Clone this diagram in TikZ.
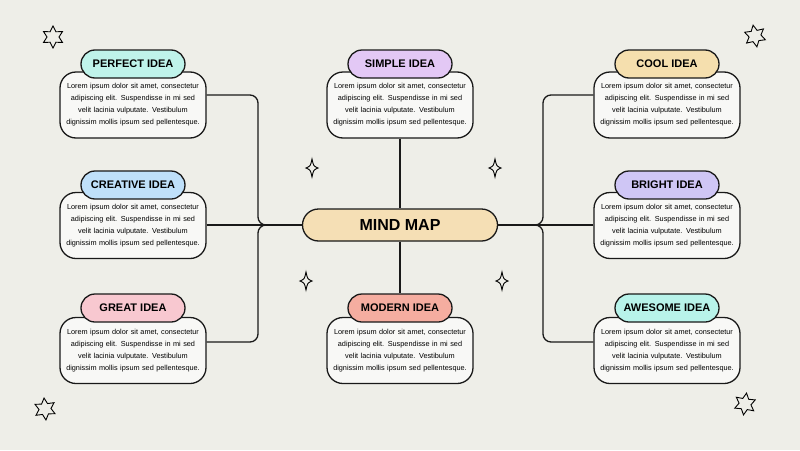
\documentclass[tikz,border=0pt]{standalone}
\usepackage{fontspec}
\setmainfont{Liberation Sans}
\begin{document}
\begin{tikzpicture}[x=1pt,y=-1pt,line width=1.3pt,
  box/.style={draw=black!90,fill=white!60!bgc,rounded corners=16pt,minimum width=146pt,minimum height=66pt,inner sep=0pt,
     font=\fontsize{7.3}{12}\selectfont,align=center,text width=146pt},
  lab/.style={draw=black!90,fill=#1,rounded corners=14pt,minimum width=104pt,minimum height=28pt,inner sep=0pt,font=\fontsize{11}{13}\selectfont\bfseries},
  conn/.style={draw=black!90,rounded corners=8pt},
  spark/.style={line width=0.9pt},
  starS/.style={line width=0.9pt}]
\definecolor{bgc}{HTML}{EEEEE8}
\definecolor{cperf}{HTML}{BFF3EA}
\definecolor{ccrea}{HTML}{BFE0FA}
\definecolor{cgrea}{HTML}{F8C8D0}
\definecolor{csimp}{HTML}{E3C8F5}
\definecolor{cmode}{HTML}{F5ADA0}
\definecolor{ccool}{HTML}{F5DFAE}
\definecolor{cbrig}{HTML}{CFC6F5}
\definecolor{cawes}{HTML}{B8F3EA}
\definecolor{ccent}{HTML}{F5DFB5}
\fill[bgc] (0,0) rectangle (800,450);
\useasboundingbox (0,0) rectangle (800,450);
\def\lorem{Lorem ipsum dolor sit amet, consectetur\\adipiscing elit. Suspendisse in mi sed\\velit lacinia vulputate. Vestibulum\\dignissim mollis ipsum sed pellentesque.}
% center
\node[draw=black!90,fill=ccent,rounded corners=16pt,minimum width=195pt,minimum height=32pt,font=\fontsize{16}{18}\selectfont\bfseries] (c) at (400,225) {MIND MAP};
% boxes
\node[box] (b1) at (133,105) {\lorem};
\node[box] (b2) at (133,225.5) {\lorem};
\node[box] (b3) at (133,350.5) {\lorem};
\node[box] (b4) at (400,105) {\lorem};
\node[box] (b5) at (400,350.5) {\lorem};
\node[box] (b6) at (667,105) {\lorem};
\node[box] (b7) at (667,225.5) {\lorem};
\node[box] (b8) at (667,350.5) {\lorem};
\node[lab=cperf] (l1) at (133,64) {PERFECT IDEA};
\node[lab=ccrea] (l2) at (133,185) {CREATIVE IDEA};
\node[lab=cgrea] (l3) at (133,308) {GREAT IDEA};
\node[lab=csimp] (l4) at (400,64) {SIMPLE IDEA};
\node[lab=cmode] (l5) at (400,308) {MODERN IDEA};
\node[lab=ccool] (l6) at (667,64) {COOL IDEA};
\node[lab=cbrig] (l7) at (667,185) {BRIGHT IDEA};
\node[lab=cawes] (l8) at (667,308) {AWESOME IDEA};
% connectors
\draw[conn] (b1.east |- 0,95) -- (258,95) -- (258,225) -- (c.west);
\draw[conn] (b3.east |- 0,342) -- (258,342) -- (258,225) -- (c.west);
\draw[conn] (b2.east |- c.west) -- (c.west);
\draw[conn] (b6.west |- 0,95) -- (543,95) -- (543,225) -- (c.east);
\draw[conn] (b8.west |- 0,342) -- (543,342) -- (543,225) -- (c.east);
\draw[conn] (b7.west |- c.east) -- (c.east);
\draw[conn] (b4.south) -- (c.north);
\draw[conn] (c.south) -- (l5.north);
% sparkles
\foreach \x/\y in {312/168,495/168,306/281,502/281}{
 \draw[spark] (\x,\y-9) .. controls (\x+1.5,\y-2) .. (\x+6,\y) .. controls (\x+1.5,\y+2) .. (\x,\y+9)
  .. controls (\x-1.5,\y+2) .. (\x-6,\y) .. controls (\x-1.5,\y-2) .. cycle;}
% six-point stars
\foreach \x/\y/\r in {53/37/0,755/36/10,45/409/5,745/404/-8}{
 \draw[starS,rotate around={\r:(\x,\y)}] (\x,\y-11) \foreach \a in {1,...,11}{ -- ({\x+ifthenelse(mod(\a,2)==1,6,11)*sin(\a*30)},{\y-ifthenelse(mod(\a,2)==1,6,11)*cos(\a*30)}) } -- cycle;}
\end{tikzpicture}
\end{document}
